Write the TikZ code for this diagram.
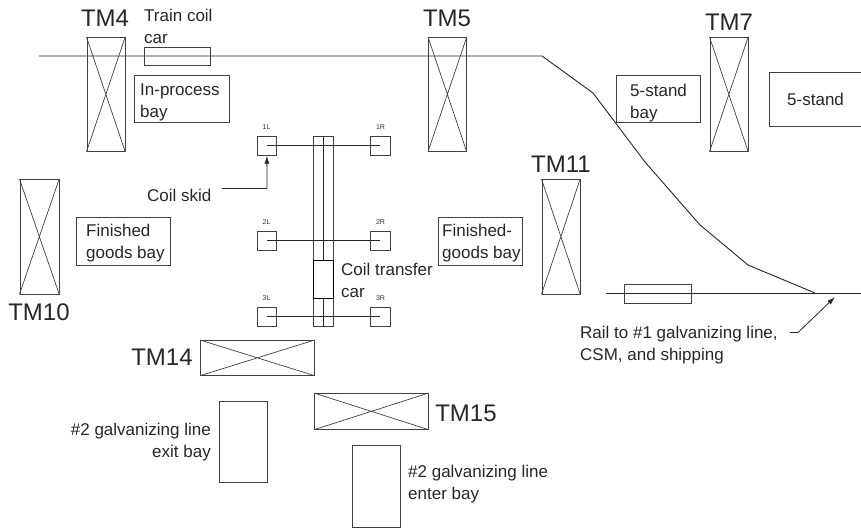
\documentclass[tikz,border=0pt]{standalone}
\usepackage{fontspec}
\setmainfont{Liberation Sans}
\usetikzlibrary{arrows.meta}
\tikzset{
  ln/.style={draw=black!85,line width=0.9pt},
  thn/.style={draw=black!75,line width=0.7pt},
  lbl/.style={inner sep=0pt,align=left,anchor=north west,font=\fontsize{17}{22}\selectfont,text=black!85},
  tm/.style={inner sep=0pt,font=\fontsize{24}{25}\selectfont,text=black!85},
  tiny/.style={inner sep=0pt,font=\fontsize{7}{7}\selectfont,text=black!80},
  crane/.style={thn,rectangle,inner sep=0pt,anchor=north west},
  ptr/.style={draw=black!85,line width=0.8pt,-{Latex[length=8pt,width=5pt]}},
}
\newcommand{\cranebox}[5]{% name x1 y1 x2 y2
  \node[crane,minimum width=#4pt-#2pt,minimum height=#5pt-#3pt] (#1) at (#2,#3) {};
  \draw[thn] (#1.north west)--(#1.south east) (#1.north east)--(#1.south west);
}
\newcommand{\plainbox}[5]{%
  \node[crane,minimum width=#4pt-#2pt,minimum height=#5pt-#3pt] (#1) at (#2,#3) {};
}
\begin{document}
\begin{tikzpicture}[x=1pt,y=-1pt]
\useasboundingbox (0,0) rectangle (861,527);
% rails
\coordinate (r0) at (39,56);
\coordinate (r1) at (542,56);
\coordinate (r2) at (593,93);
\coordinate (r3) at (645,162);
\coordinate (r4) at (700,225);
\coordinate (r5) at (748,265);
\coordinate (r6) at (815,293);
\coordinate (s0) at (606,293);
\coordinate (s1) at (861,293);
\draw[ln] (r0)--(r1)--(r2)--(r3)--(r4)--(r5)--(r6);
\draw[ln] (s0)--(s1);
% cranes
\cranebox{tmfour}{86.5}{37}{124.5}{151}
\cranebox{tmfive}{428}{37}{466}{151}
\cranebox{tmseven}{709.5}{37}{747.5}{151}
\cranebox{tmten}{19.5}{179}{58.5}{293.5}
\cranebox{tmeleven}{541.5}{179}{579.5}{293.5}
\cranebox{tmfourteen}{200}{340}{314}{375}
\cranebox{tmfifteen}{314}{393}{428}{429}
% boxes
\plainbox{traincar}{144}{47}{210}{65}
\plainbox{inproc}{134}{75}{229}{122}
\plainbox{fivebay}{616}{75}{700}{122}
\plainbox{five}{769}{72}{864}{126}
\plainbox{fingoods}{76}{217}{170}{265}
\plainbox{fingoodsb}{438}{217}{522}{265}
\plainbox{exitbay}{219}{401}{267}{482}
\plainbox{enterbay}{352}{445}{400}{526.5}
\plainbox{railcar}{624}{284}{691}{303}
% transfer bay
\plainbox{track}{313}{136}{333}{326}
\plainbox{oneL}{257}{136}{276}{155}
\plainbox{oneR}{370}{136}{390}{155}
\plainbox{twoL}{257}{231}{276}{250}
\plainbox{twoR}{370}{231}{390}{250}
\plainbox{threeL}{257}{307}{276}{326}
\plainbox{threeR}{370}{307}{390}{326}
\draw[ln] (oneL.center)--(oneR.center);
\draw[ln] (twoL.center)--(twoR.center);
\draw[ln] (threeL.center)--(threeR.center);
\draw[ln] (track.north)--(track.south);
\node[draw=black,line width=1.1pt,fill=white,inner sep=0pt,anchor=north west,minimum width=20pt,minimum height=38pt] (car) at (313,259.5) {};
% small labels
\node[tiny] (l1) at (266.5,127.5) {1L};
\node[tiny] (r1t) at (380.5,127.5) {1R};
\node[tiny] (l2) at (266.5,222) {2L};
\node[tiny] (r2t) at (380.5,222) {2R};
\node[tiny] (l3) at (266.5,298) {3L};
\node[tiny] (r3t) at (380.5,298) {3R};
% TM labels
\node[tm] (t4) at (105,18) {TM4};
\node[tm] (t5) at (447,18) {TM5};
\node[tm] (t7) at (729,22) {TM7};
\node[tm] (t10) at (39,312) {TM10};
\node[tm] (t11) at (561,164) {TM11};
\node[tm] (t14) at (162,357) {TM14};
\node[tm] (t15) at (466,413) {TM15};
% text
\node[lbl] (a) at (144,8.5) {Train coil\\car};
\node[lbl] (b) at (140,83.5) {In-process\\bay};
\node[lbl] (c) at (630,83.5) {5-stand\\bay};
\node[lbl] at (787,93) {5-stand};
\node[lbl] (d) at (86,223.5) {Finished\\goods bay};
\node[lbl] (e) at (442,223.5) {Finished-\\goods bay};
\node[lbl] (f) at (341,263) {Coil transfer\\car};
\node[lbl] (g) at (147,188.5) {Coil skid};
\node[lbl] (h) at (580,326) {Rail to \#1 galvanizing line,\\CSM, and shipping};
\node[lbl,align=right,anchor=north east] (i) at (211,422.5) {\#2 galvanizing line\\exit bay};
\node[lbl] (j) at (408,464.5) {\#2 galvanizing line\\enter bay};
% pointers
\coordinate (sk) at (222,188.5);
\coordinate (sk1) at (267,188.5);
\draw[ptr] (sk)--(sk1)--(oneL.south);
\coordinate (p0) at (790,332.5);
\coordinate (p1) at (798,332.5);
\coordinate (p2) at (835,297);
\draw[ptr] (p0)--(p1)--(p2);
\end{tikzpicture}
\end{document}
